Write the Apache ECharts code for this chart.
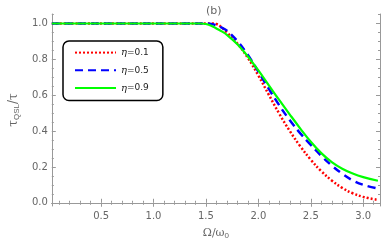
<!DOCTYPE html>
<html><head><meta charset="utf-8">
<script src="https://cdn.jsdelivr.net/npm/echarts@6/dist/echarts.min.js"></script>
<style>html,body{margin:0;padding:0;background:#fff}#c{width:382px;height:245px}</style>
</head><body><div id="c"></div>
<script>
const xs = [0.03, 0.5, 1.0, 1.2, 1.3, 1.4, 1.45, 1.5, 1.55, 1.6, 1.65, 1.7, 1.8, 1.9, 2.0, 2.1, 2.2, 2.3, 2.4, 2.5, 2.6, 2.7, 2.8, 2.9, 3.0, 3.14];
const eta01 = [1.0, 1.0, 1.0, 1.0, 1.0, 1.0, 1.0, 1.0, 1.0, 0.997, 0.978, 0.95, 0.888, 0.808, 0.71, 0.602, 0.496, 0.40, 0.315, 0.24, 0.176, 0.124, 0.083, 0.053, 0.033, 0.016];
const eta05 = [1.0, 1.0, 1.0, 1.0, 1.0, 1.0, 1.0, 1.0, 0.998, 0.99, 0.977, 0.96, 0.902, 0.824, 0.732, 0.635, 0.543, 0.46, 0.387, 0.323, 0.262, 0.208, 0.162, 0.125, 0.10, 0.079];
const eta09 = [1.0, 1.0, 1.0, 1.0, 1.0, 1.0, 1.0, 0.997, 0.988, 0.972, 0.956, 0.937, 0.884, 0.816, 0.738, 0.655, 0.572, 0.492, 0.414, 0.34, 0.277, 0.227, 0.19, 0.163, 0.143, 0.123];
const names = ['0.1', '0.5', '0.9'];
const xMajor = [0.5, 1.0, 1.5, 2.0, 2.5, 3.0];
const xMinor = [0.1,0.2,0.3,0.4,0.6,0.7,0.8,0.9,1.1,1.2,1.3,1.4,1.6,1.7,1.8,1.9,2.1,2.2,2.3,2.4,2.6,2.7,2.8,2.9,3.1];
const yMajor = [0.0, 0.2, 0.4, 0.6, 0.8, 1.0];
const yMinor = [0.05,0.1,0.15,0.25,0.3,0.35,0.45,0.5,0.55,0.65,0.7,0.75,0.85,0.9,0.95,1.05];
const XMIN = 0.03, XMAX = 3.16, YMIN = -0.018, YMAX = 1.053;

const gray = '#999';
const lbl = '#666';
function xa(pos, vals, len, showLine, showLabel){
  return {type:'value', position:pos, min:XMIN, max:XMAX,
    axisLine:{show:showLine, lineStyle:{color:gray, width:1}},
    axisTick:{show:true, inside:true, length:len, customValues:vals, lineStyle:{color:gray}},
    axisLabel:{show:showLabel, customValues:vals, formatter:v=>v.toFixed(1), color:lbl, fontSize:10, margin:5, fontFamily:'DejaVu Sans'},
    splitLine:{show:false}};
}
function ya(pos, vals, len, showLine, showLabel){
  return {type:'value', position:pos, min:YMIN, max:YMAX,
    axisLine:{show:showLine, lineStyle:{color:gray, width:1}},
    axisTick:{show:true, inside:true, length:len, customValues:vals, lineStyle:{color:gray}},
    axisLabel:{show:showLabel, customValues:vals, formatter:v=>v.toFixed(1), color:lbl, fontSize:10, margin:4, fontFamily:'DejaVu Sans'},
    splitLine:{show:false}};
}
const xAxes = [xa('bottom', xMajor, 4, true, true), xa('bottom', xMinor, 2, false, false), xa('top', xMajor, 4, true, false), xa('top', xMinor, 2, false, false)];
xAxes[0].name = '{a|Ω/ω}{s|0}';
xAxes[0].nameLocation = 'middle';
xAxes[0].nameGap = 20;
xAxes[0].nameTextStyle = {rich:{a:{fontSize:11, color:lbl, fontFamily:'DejaVu Serif'}, s:{fontSize:8, color:lbl, verticalAlign:'bottom', padding:[6,0,0,0]}}};
const yAxes = [ya('left', yMajor, 4, true, true), ya('left', yMinor, 2, false, false), ya('right', yMajor, 4, true, false), ya('right', yMinor, 2, false, false)];
yAxes[0].name = '{a|τ}{s|QSL}{a|/τ}';
yAxes[0].nameLocation = 'middle';
yAxes[0].nameGap = 24;
yAxes[0].nameRotate = 90;
yAxes[0].nameTextStyle = {rich:{a:{fontSize:12, color:lbl, fontFamily:'DejaVu Serif'}, s:{fontSize:8, color:lbl, padding:[6,0,0,0]}}};

function mk(ys){ return xs.map((x,i)=>[x, ys[i]]); }
const chart = echarts.init(document.getElementById('c'), null, {renderer:'canvas'});
chart.setOption({
  animation:false,
  backgroundColor:'#fff',
  title:{text:'(b)', left:201, top:1, textStyle:{fontSize:11, fontWeight:'normal', color:lbl, fontFamily:'DejaVu Sans'}},
  grid:{left:38, right:2, top:14, bottom:35, containLabel:false},
  xAxis:xAxes, yAxis:yAxes,
  legend:{orient:'vertical', left:63, top:41, padding:[6,14,7,11], itemGap:6.5, itemWidth:41, itemHeight:14,
    borderColor:'#000', borderWidth:1.5, borderRadius:6,
    itemStyle:{opacity:0},
    data:names.map(n=>({name:n})),
    formatter: n => '{i|η}{t|=' + n + '}',
    textStyle:{rich:{i:{fontStyle:'italic', fontSize:10, color:'#222', fontFamily:'DejaVu Serif'}, t:{fontSize:9, color:'#222', fontFamily:'DejaVu Sans'}}}},
  series:[
    {name:names[0], type:'line', data:mk(eta01), smooth:0.4, symbol:'none', z:3, lineStyle:{color:'#ff0000', width:2.5, type:[2,2]}, itemStyle:{color:'#ff0000'}},
    {name:names[1], type:'line', data:mk(eta05), smooth:0.4, symbol:'none', z:4, lineStyle:{color:'#0000ff', width:2.5, type:[8,5]}, itemStyle:{color:'#0000ff'}},
    {name:names[2], type:'line', data:mk(eta09), smooth:0.4, symbol:'none', z:5, lineStyle:{color:'#00ff00', width:2.2, type:'solid'}, itemStyle:{color:'#00ff00'}}
  ]
});
</script></body></html>
